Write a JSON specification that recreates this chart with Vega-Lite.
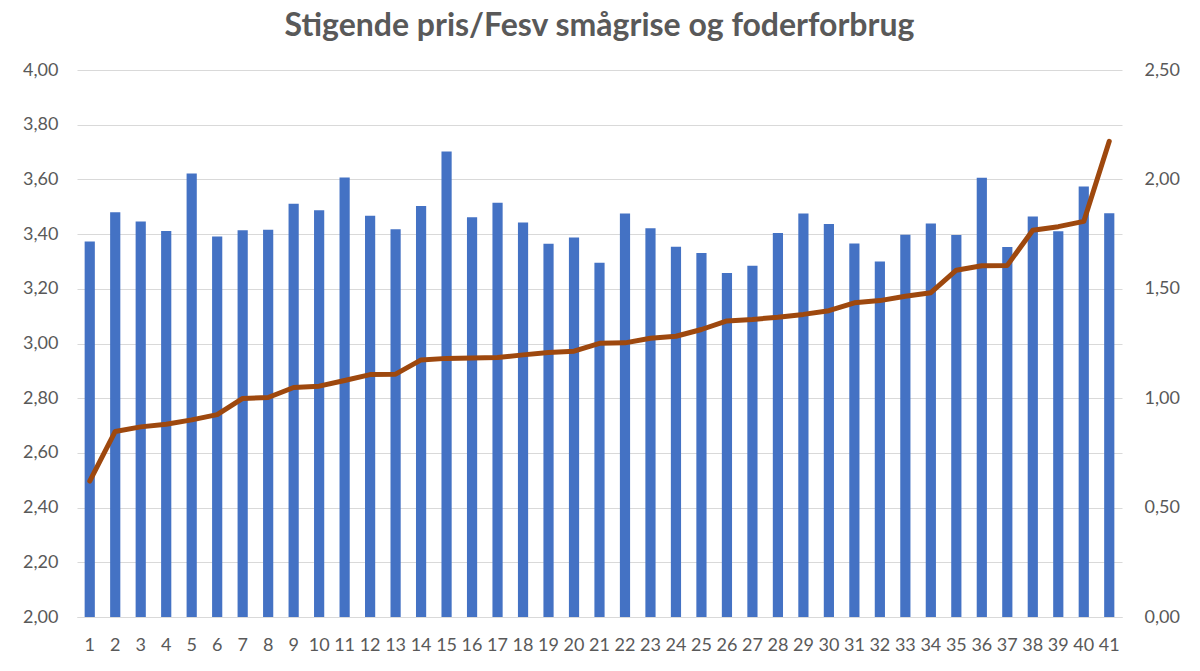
{
  "$schema": "https://vega.github.io/schema/vega-lite/v6.json",
  "width": 1045,
  "height": 547,
  "autosize": {"type": "none"},
  "padding": {"left": 77, "top": 70, "right": 78, "bottom": 54},
  "background": "white",
  "title": {
    "text": "Stigende pris/Fesv smågrise og foderforbrug",
    "font": "Lato",
    "fontSize": 32,
    "fontWeight": "bold",
    "color": "#595959",
    "anchor": "middle",
    "offset": 18
  },
  "data": {
    "values": [
      {"n": 1, "pris": 3.373, "foder": 0.621},
      {"n": 2, "pris": 3.48, "foder": 0.848},
      {"n": 3, "pris": 3.446, "foder": 0.869},
      {"n": 4, "pris": 3.411, "foder": 0.881},
      {"n": 5, "pris": 3.622, "foder": 0.901},
      {"n": 6, "pris": 3.391, "foder": 0.925},
      {"n": 7, "pris": 3.414, "foder": 0.999},
      {"n": 8, "pris": 3.416, "foder": 1.003},
      {"n": 9, "pris": 3.511, "foder": 1.049},
      {"n": 10, "pris": 3.487, "foder": 1.055},
      {"n": 11, "pris": 3.607, "foder": 1.081},
      {"n": 12, "pris": 3.467, "foder": 1.108},
      {"n": 13, "pris": 3.418, "foder": 1.11},
      {"n": 14, "pris": 3.503, "foder": 1.175},
      {"n": 15, "pris": 3.702, "foder": 1.182},
      {"n": 16, "pris": 3.462, "foder": 1.184},
      {"n": 17, "pris": 3.515, "foder": 1.186},
      {"n": 18, "pris": 3.442, "foder": 1.198},
      {"n": 19, "pris": 3.365, "foder": 1.209},
      {"n": 20, "pris": 3.388, "foder": 1.215},
      {"n": 21, "pris": 3.295, "foder": 1.251},
      {"n": 22, "pris": 3.475, "foder": 1.253},
      {"n": 23, "pris": 3.421, "foder": 1.274},
      {"n": 24, "pris": 3.354, "foder": 1.283},
      {"n": 25, "pris": 3.331, "foder": 1.314},
      {"n": 26, "pris": 3.258, "foder": 1.353},
      {"n": 27, "pris": 3.284, "foder": 1.36},
      {"n": 28, "pris": 3.404, "foder": 1.37},
      {"n": 29, "pris": 3.475, "foder": 1.383},
      {"n": 30, "pris": 3.437, "foder": 1.4},
      {"n": 31, "pris": 3.366, "foder": 1.436},
      {"n": 32, "pris": 3.3, "foder": 1.446},
      {"n": 33, "pris": 3.398, "foder": 1.466},
      {"n": 34, "pris": 3.439, "foder": 1.482},
      {"n": 35, "pris": 3.397, "foder": 1.585},
      {"n": 36, "pris": 3.606, "foder": 1.605},
      {"n": 37, "pris": 3.353, "foder": 1.607},
      {"n": 38, "pris": 3.464, "foder": 1.768},
      {"n": 39, "pris": 3.41, "foder": 1.784},
      {"n": 40, "pris": 3.574, "foder": 1.808},
      {"n": 41, "pris": 3.476, "foder": 2.174}
    ]
  },
  "encoding": {
    "x": {
      "field": "n",
      "type": "ordinal",
      "scale": {"paddingInner": 0.6, "paddingOuter": 0.3},
      "axis": {
        "title": null,
        "labelAngle": 0,
        "labelPadding": 19,
        "domain": true,
        "domainColor": "#D9D9D9",
        "domainWidth": 1,
        "ticks": false,
        "grid": false
      }
    }
  },
  "layer": [
    {
      "mark": {"type": "bar", "color": "#4472C4"},
      "encoding": {
        "y": {
          "field": "pris",
          "type": "quantitative",
          "scale": {"domain": [2, 4], "zero": false, "nice": false},
          "axis": {
            "title": null,
            "orient": "left",
            "values": [2, 2.2, 2.4, 2.6, 2.8, 3, 3.2, 3.4, 3.6, 3.8, 4],
            "labelExpr": "replace(format(datum.value, '.2f'), '.', ',')",
            "grid": true,
            "gridColor": "#D9D9D9",
            "domain": false,
            "ticks": false,
            "labelPadding": 19
          }
        },
        "y2": {"datum": 2}
      }
    },
    {
      "mark": {"type": "line", "color": "#9E480E", "strokeWidth": 5, "strokeJoin": "round", "strokeCap": "round"},
      "encoding": {
        "y": {
          "field": "foder",
          "type": "quantitative",
          "scale": {"domain": [0, 2.5], "nice": false},
          "axis": {
            "title": null,
            "orient": "right",
            "values": [0, 0.5, 1, 1.5, 2, 2.5],
            "labelExpr": "replace(format(datum.value, '.2f'), '.', ',')",
            "grid": false,
            "domain": false,
            "ticks": false,
            "labelPadding": 22
          }
        }
      }
    }
  ],
  "resolve": {"scale": {"y": "independent"}},
  "config": {
    "view": {"stroke": null},
    "axis": {
      "labelFont": "Lato",
      "labelFontSize": 18,
      "labelColor": "#595959"
    }
  }
}
